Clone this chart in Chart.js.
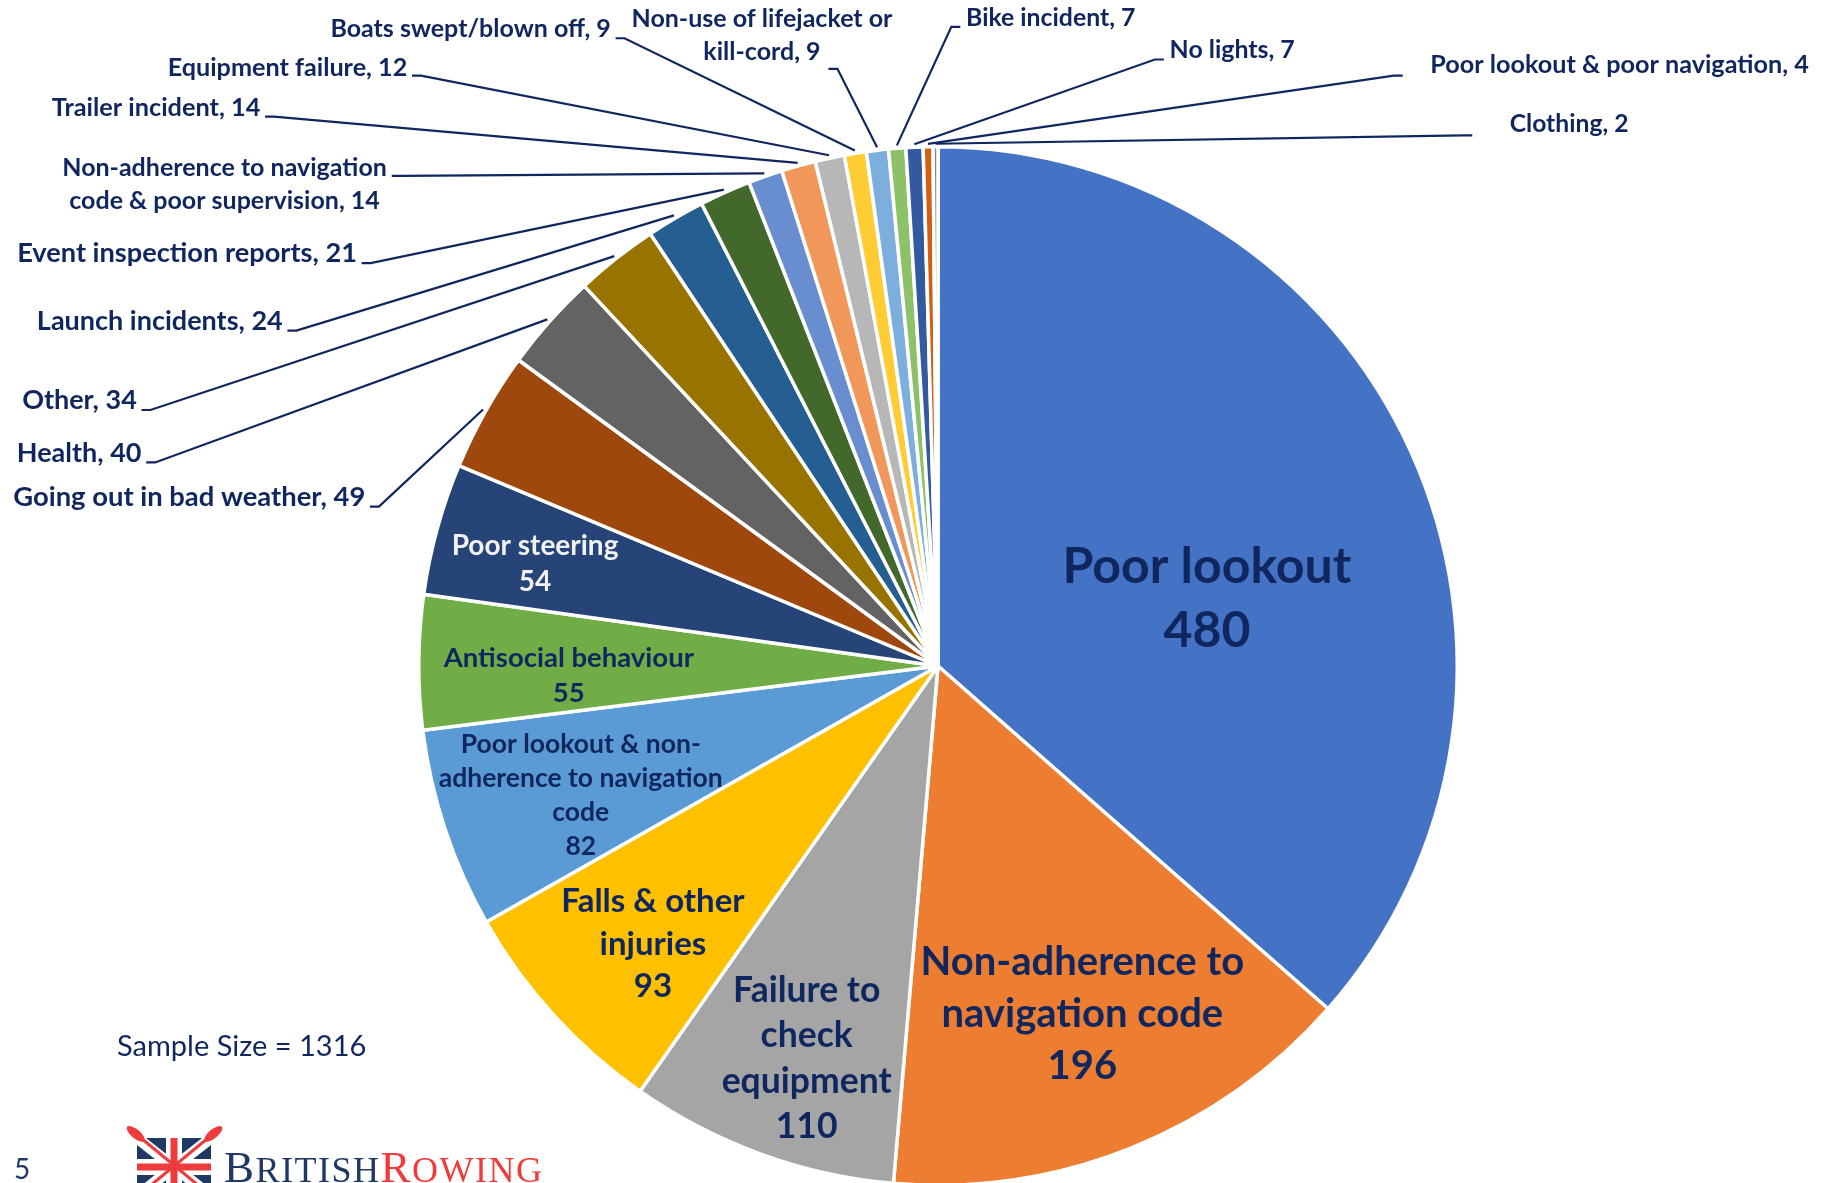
<!DOCTYPE html>
<html><head><meta charset="utf-8">
<script src="https://cdn.jsdelivr.net/npm/chart.js@4/dist/chart.umd.min.js"></script>
<style>
html,body{margin:0;padding:0;background:#fff;overflow:hidden;width:1825px;height:1183px}
#wrap{position:absolute;left:0;top:0;width:1825px;height:1200px}
</style>
</head><body><div id="wrap"><canvas id="c" width="1825" height="1200"></canvas></div>
<script>
// ---------- DATA ----------
const categories = [
  "Poor lookout",
  "Non-adherence to navigation code",
  "Failure to check equipment",
  "Falls & other injuries",
  "Poor lookout & non-adherence to navigation code",
  "Antisocial behaviour",
  "Poor steering",
  "Going out in bad weather",
  "Health",
  "Other",
  "Launch incidents",
  "Event inspection reports",
  "Non-adherence to navigation code & poor supervision",
  "Trailer incident",
  "Equipment failure",
  "Boats swept/blown off",
  "Non-use of lifejacket or kill-cord",
  "Bike incident",
  "No lights",
  "Poor lookout & poor navigation",
  "Clothing"
];
const counts = [480,196,110,93,82,55,54,49,40,34,24,21,14,14,12,9,9,7,7,4,2];
const sliceColors = [
  "#4472C4","#ED7D31","#A5A5A5","#FFC000","#5B9BD5","#70AD47","#264478",
  "#9E480E","#636363","#997300","#255E91","#43682B","#698ED0","#F1975A",
  "#B7B7B7","#FFCD33","#7CAFDD","#8CC168","#335AA1","#D26012","#848484"
];

// ---------- LAYOUT / STYLE ----------
const NAVY = "#10265F";
const FONT = "Lato, 'Open Sans', sans-serif";
// inner labels: offset from pie centre in units of radius
const innerLabels = [
  {i:0, lines:["Poor lookout"], dx:0.518, dy:-0.130, size:50, lh:64, color:NAVY},
  {i:1, lines:["Non-adherence to","navigation code"], dx:0.278, dy:0.670, size:40, lh:52, color:NAVY},
  {i:2, lines:["Failure to","check","equipment"], dx:-0.253, dy:0.756, size:35.5, lh:45.5, color:NAVY},
  {i:3, lines:["Falls & other","injuries"], dx:-0.549, dy:0.536, size:33, lh:42.5, color:NAVY},
  {i:4, lines:["Poor lookout & non-","adherence to navigation","code"], dx:-0.688, dy:0.249, size:26.5, lh:34, color:NAVY},
  {i:5, lines:["Antisocial behaviour"], dx:-0.711, dy:0.018, size:27.5, lh:35, color:NAVY},
  {i:6, lines:["Poor steering"], dx:-0.776, dy:-0.197, size:28, lh:36, color:"#F2F2F2"}
];
// outer labels: text anchor (tx,ty) and leader knee near text (kx,ky), radius units
const outerLabels = [
  {i:7,  lines:["Going out in bad weather"], align:"right", tx:-1.103, ty:-0.325, kx:-1.094, ky:-0.307, fs:27.4},
  {i:8,  lines:["Health"], align:"right", tx:-1.534, ty:-0.410, kx:-1.525, ky:-0.392, fs:27},
  {i:9,  lines:["Other"], align:"right", tx:-1.543, ty:-0.511, kx:-1.534, ky:-0.493, fs:27},
  {i:10, lines:["Launch incidents"], align:"right", tx:-1.262, ty:-0.664, kx:-1.253, ky:-0.646, fs:27},
  {i:11, lines:["Event inspection reports"], align:"right", tx:-1.119, ty:-0.794, kx:-1.110, ky:-0.776, fs:27.2},
  {i:12, lines:["Non-adherence to navigation","code & poor supervision"], align:"center", tx:-1.374, ty:-0.928, kx:-1.052, ky:-0.944, fs:25},
  {i:13, lines:["Trailer incident"], align:"right", tx:-1.305, ty:-1.074, kx:-1.296, ky:-1.058, fs:25.3},
  {i:14, lines:["Equipment failure"], align:"right", tx:-1.022, ty:-1.152, kx:-1.013, ky:-1.137, fs:25.2},
  {i:15, lines:["Boats swept/blown off"], align:"right", tx:-0.630, ty:-1.226, kx:-0.621, ky:-1.209, fs:25},
  {i:16, lines:["Non-use of lifejacket or","kill-cord"], align:"center", tx:-0.339, ty:-1.214, kx:-0.211, ky:-1.150, fs:25},
  {i:17, lines:["Bike incident"], align:"left", tx:0.054, ty:-1.247, kx:0.043, ky:-1.231, fs:24.8},
  {i:18, lines:["No lights"], align:"left", tx:0.446, ty:-1.186, kx:0.435, ky:-1.168, fs:24.9},
  {i:19, lines:["Poor lookout & poor navigation"], align:"left", tx:0.948, ty:-1.157, kx:0.895, ky:-1.137, fs:25.2},
  {i:20, lines:["Clothing"], align:"left", tx:1.101, ty:-1.043, kx:1.029, ky:-1.022, fs:24.7}
];

function drawLogo(ctx){
  // flag with crossed oars
  const x0=137, y0=1138, w=74, h=58, cx=x0+w/2, cy=y0+h/2;
  ctx.save();
  ctx.beginPath(); ctx.rect(x0,y0,w,h); ctx.clip();
  ctx.fillStyle="#1F3864"; ctx.fillRect(x0,y0,w,h);
  ctx.strokeStyle="#fff"; ctx.lineWidth=11;
  ctx.beginPath(); ctx.moveTo(x0,y0); ctx.lineTo(x0+w,y0+h); ctx.moveTo(x0+w,y0); ctx.lineTo(x0,y0+h); ctx.stroke();
  ctx.lineWidth=16;
  ctx.beginPath(); ctx.moveTo(cx,y0); ctx.lineTo(cx,y0+h); ctx.moveTo(x0,cy); ctx.lineTo(x0+w,cy); ctx.stroke();
  ctx.strokeStyle="#EE3B3B"; ctx.lineWidth=7;
  ctx.beginPath(); ctx.moveTo(cx,y0); ctx.lineTo(cx,y0+h); ctx.moveTo(x0,cy); ctx.lineTo(x0+w,cy); ctx.stroke();
  ctx.restore();
  // oars
  ctx.save();
  ctx.strokeStyle="#EE3B3B"; ctx.fillStyle="#EE3B3B"; ctx.lineWidth=3;
  ctx.beginPath(); ctx.moveTo(130,1129); ctx.lineTo(216,1200); ctx.moveTo(219,1129); ctx.lineTo(133,1200); ctx.stroke();
  [[131,1130,Math.atan2(71,86)],[218,1130,Math.atan2(71,-86)]].forEach(([bx,by,a])=>{
    ctx.save(); ctx.translate(bx+Math.cos(a)*6,by+Math.sin(a)*6); ctx.rotate(a);
    ctx.beginPath(); ctx.ellipse(0,0,11,4.5,0,0,Math.PI*2); ctx.fill(); ctx.restore();
  });
  ctx.restore();
  // wordmark
  ctx.save();
  ctx.textBaseline="alphabetic"; ctx.textAlign="left";
  let x=224; const base=1182;
  const parts=[["B",45,"#1F3864"],["RITISH",36,"#1F3864"],["R",45,"#EE3B3B"],["OWING",36,"#EE3B3B"]];
  parts.forEach(([t,s,c])=>{
    ctx.font=s+"px 'Liberation Serif', 'DejaVu Serif', serif"; ctx.fillStyle=c;
    for(const ch of t){ ctx.fillText(ch,x,base); x+=ctx.measureText(ch).width+1.5; }
  });
  ctx.restore();
}

const labelPlugin = {
  id:"labelPlugin",
  afterDraw(chart){
    const ctx=chart.ctx;
    const arcs=chart.getDatasetMeta(0).data;
    const vals=chart.data.datasets[0].data;
    const cx=arcs[0].x, cy=arcs[0].y, R=arcs[0].outerRadius;
    ctx.save();
    ctx.textBaseline="middle";
    // inner labels
    innerLabels.forEach(L=>{
      const lines=L.lines.concat([String(vals[L.i])]);
      const px=cx+L.dx*R, py=cy+L.dy*R;
      ctx.font="bold "+L.size+"px "+FONT; ctx.fillStyle=L.color; ctx.textAlign="center";
      const top=py-(lines.length-1)*L.lh/2;
      lines.forEach((t,k)=>ctx.fillText(t,px,top+k*L.lh));
    });
    // outer labels with leader lines
    const lh=33;
    outerLabels.forEach(L=>{
      const a=arcs[L.i];
      const mid=(a.startAngle+a.endAngle)/2;
      const ex=cx+Math.cos(mid)*(R+3), ey=cy+Math.sin(mid)*(R+3);
      const kx=cx+L.kx*R, ky=cy+L.ky*R;
      const dir=Math.sign(ex-kx)||1;
      ctx.strokeStyle=NAVY; ctx.lineWidth=2.2;
      ctx.beginPath(); ctx.moveTo(kx,ky); ctx.lineTo(kx+dir*9,ky); ctx.lineTo(ex,ey); ctx.stroke();
      const lines=L.lines.slice(); lines[lines.length-1]+=", "+vals[L.i];
      ctx.font="bold "+L.fs+"px "+FONT; ctx.fillStyle=NAVY; ctx.textAlign=L.align;
      const px=cx+L.tx*R, py=cy+L.ty*R;
      const top=py-(lines.length-1)*lh/2;
      lines.forEach((t,k)=>ctx.fillText(t,px,top+k*lh));
    });
    // sample size & page number
    const total=vals.reduce((s,v)=>s+v,0);
    ctx.textAlign="left"; ctx.fillStyle=NAVY;
    ctx.font="29px "+FONT;
    ctx.fillText("Sample Size = "+total,117,1047);
    ctx.fillStyle="#1F3864"; ctx.font="28px "+FONT;
    ctx.fillText("5",14,1170);
    ctx.restore();
    drawLogo(ctx);
  }
};

new Chart(document.getElementById("c"),{
  type:"pie",
  data:{labels:categories,datasets:[{data:counts,backgroundColor:sliceColors,borderColor:"#ffffff",borderWidth:3.5}]},
  options:{
    responsive:false, animation:false, events:[],
    layout:{padding:{left:417,right:366,top:145,bottom:13}},
    plugins:{legend:{display:false},tooltip:{enabled:false}}
  },
  plugins:[labelPlugin]
});
</script>
</body></html>
